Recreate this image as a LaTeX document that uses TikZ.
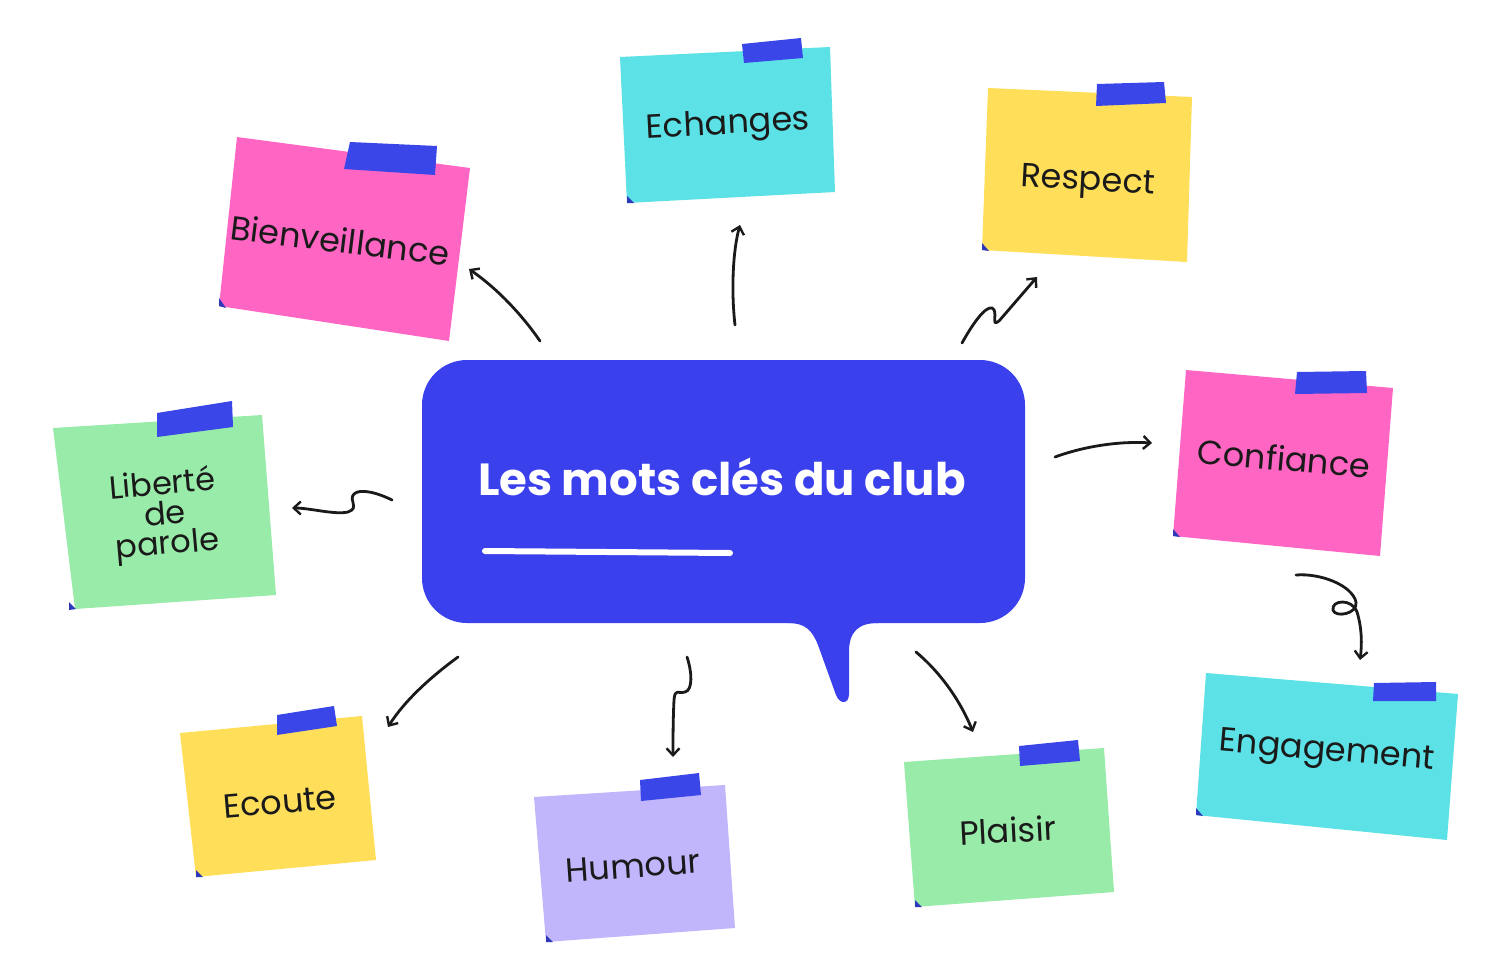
\documentclass[tikz,border=0pt]{standalone}
\usepackage{fontspec}
\setmainfont{Poppins}
\usetikzlibrary{arrows.meta}
\definecolor{bub}{HTML}{3A40EC}
\definecolor{tapeb}{HTML}{3A46E8}
\definecolor{npink}{HTML}{FF66C4}
\definecolor{ncyan}{HTML}{5CE1E6}
\definecolor{nyellow}{HTML}{FFDE59}
\definecolor{ngreen}{HTML}{98EBA8}
\definecolor{nlav}{HTML}{C1B6FC}
\definecolor{ink}{HTML}{1A1A1A}
\tikzset{
  tape/.style={fill=tapeb},
  fold/.style={fill=tapeb!80!black},
  lbl/.style={font=\fontsize{33.5}{33.5}\selectfont, text=ink, align=center, inner sep=0pt},
  arr/.style={-{Straight Barb[length=7pt,width=13pt,line width=2.4pt]}, line width=2.8pt, line cap=round, ink},
}
\begin{document}
\begin{tikzpicture}[x=1pt,y=-1pt]
\useasboundingbox (0,0) rectangle (1494,964);
\fill[white] (0,0) rectangle (1494,964);

% ---------- sticky notes ----------
% Bienveillance
\fill[npink] (237,137) -- (470,168) -- (449,341) -- (219,306) -- cycle;
\fill[tape] (350,142) -- (437,146) -- (435,175) -- (344,169) -- cycle;
\fill[fold] (219,298) -- (226,308) -- (219,306) -- cycle;
\node[lbl, rotate=-7] (nb) at (340,240) {Bienveillance};

% Echanges
\fill[ncyan] (620,57) -- (830,47) -- (835,192) -- (627,203) -- cycle;
\fill[tape] (742,44) -- (801,38) -- (803,58) -- (744,63) -- cycle;
\fill[fold] (627,196) -- (634,203) -- (627,203) -- cycle;
\node[lbl, rotate=3] (ne) at (728,126) {Echanges};

% Respect
\fill[nyellow] (988,88) -- (1192,97) -- (1187,262) -- (982,250) -- cycle;
\fill[tape] (1097,84) -- (1164,82) -- (1166,103) -- (1096,106) -- cycle;
\fill[fold] (982,243) -- (989,251) -- (982,250) -- cycle;
\node[lbl, rotate=-3] (nr) at (1088,183) {Respect};

% Confiance
\fill[npink] (1186,370) -- (1393,388) -- (1380,556) -- (1173,536) -- cycle;
\fill[tape] (1297,372) -- (1366,371) -- (1367,393) -- (1295,394) -- cycle;
\fill[fold] (1173,529) -- (1180,537) -- (1173,536) -- cycle;
\node[lbl, rotate=-5] (nc) at (1284,458) {Confiance};

% Engagement
\fill[ncyan] (1206,673) -- (1458,694) -- (1447,840) -- (1196,815) -- cycle;
\fill[tape] (1374,683) -- (1436,682) -- (1436,701) -- (1373,701) -- cycle;
\fill[fold] (1196,808) -- (1203,816) -- (1196,815) -- cycle;
\node[lbl, rotate=-5] (ng) at (1327,753) {Engagement};

% Plaisir
\fill[ngreen] (904,762) -- (1104,748) -- (1114,892) -- (915,907) -- cycle;
\fill[tape] (1019,746) -- (1078,740) -- (1080,761) -- (1020,766) -- cycle;
\fill[fold] (915,900) -- (922,907) -- (915,907) -- cycle;
\node[lbl, rotate=3] (np) at (1008,830) {Plaisir};

% Humour
\fill[nlav] (534,797) -- (725,785) -- (735,928) -- (546,942) -- cycle;
\fill[tape] (640,780) -- (699,773) -- (701,795) -- (641,801) -- cycle;
\fill[fold] (546,935) -- (553,942) -- (546,942) -- cycle;
\node[lbl, rotate=4] (nh) at (633,866) {Humour};

% Ecoute
\fill[nyellow] (180,733) -- (362,716) -- (376,860) -- (196,877) -- cycle;
\fill[tape] (277,715) -- (334,706) -- (337,726) -- (277,735) -- cycle;
\fill[fold] (196,870) -- (203,877) -- (196,877) -- cycle;
\node[lbl, rotate=5] (no) at (280,802) {Ecoute};

% Liberte de parole
\fill[ngreen] (53,428) -- (262,415) -- (276,595) -- (75,609) -- cycle;
\fill[tape] (157,413) -- (232,401) -- (233,427) -- (157,437) -- cycle;
\fill[fold] (69,602) -- (76,609) -- (69,610) -- cycle;
\node[lbl, rotate=5, font=\fontsize{32}{30}\selectfont] (nl) at (165,516) {Liberté\\de\\parole};

% ---------- central bubble ----------
\fill[bub, rounded corners=45pt] (422,360) rectangle (1025,623);
\fill[bub] (788,615) -- (788,623) .. controls (805,623) and (812,630) .. (818,645)
  -- (836,695) .. controls (840,705) and (849,704) .. (849,694)
  -- (849,652) .. controls (849,632) and (858,623) .. (878,623) -- (878,615) -- cycle;
\node[font=\fontsize{45}{45}\selectfont\bfseries, text=white, inner sep=0pt] (title) at (722,477) {Les mots clés du club};
\coordinate (u1) at (485,551);
\coordinate (u2) at (730,553);
\draw[white, line width=6pt, line cap=round] (u1) -- (u2);

% ---------- arrows ----------
\coordinate (b1) at (540,341); \coordinate (b2) at (469,269);
\draw[arr] (b1) .. controls (520,312) and (495,287) .. (b2);

\coordinate (e1) at (735,325); \coordinate (e2) at (740,225);
\draw[arr] (e1) .. controls (731,290) and (733,250) .. (e2);

\coordinate (r1) at (962,343); \coordinate (r2) at (1037,277);
\draw[arr] (r1) .. controls (972,325) and (985,306) .. (992,308)
  .. controls (999,311) and (990,328) .. (999,321) -- (r2);

\coordinate (c1) at (1055,457); \coordinate (c2) at (1152,443);
\draw[arr] (c1) .. controls (1085,446) and (1120,441) .. (c2);

\coordinate (g1) at (1296,575); \coordinate (g2) at (1360,660);
\draw[arr] (g1) .. controls (1320,573) and (1352,585) .. (1356,602)
  .. controls (1358,614) and (1335,618) .. (1333,610)
  .. controls (1331,600) and (1352,598) .. (1357,612)
  .. controls (1362,628) and (1362,645) .. (g2);

\coordinate (p1) at (916,652); \coordinate (p2) at (973,732);
\draw[arr] (p1) .. controls (940,672) and (960,700) .. (p2);

\coordinate (h1) at (687,657); \coordinate (h2) at (673,757);
\draw[arr] (h1) .. controls (692,672) and (693,690) .. (685,692)
  .. controls (678,694) and (675,688) .. (674,700)
  .. controls (673,720) and (673,740) .. (h2);

\coordinate (o1) at (458,657); \coordinate (o2) at (388,727);
\draw[arr] (o1) .. controls (432,676) and (405,700) .. (o2);

\coordinate (l1) at (392,500); \coordinate (l2) at (292,508);
\draw[arr] (l1) .. controls (378,493) and (360,488) .. (354,494)
  .. controls (348,500) and (360,508) .. (348,512)
  .. controls (335,515) and (310,508) .. (l2);
\end{tikzpicture}
\end{document}
